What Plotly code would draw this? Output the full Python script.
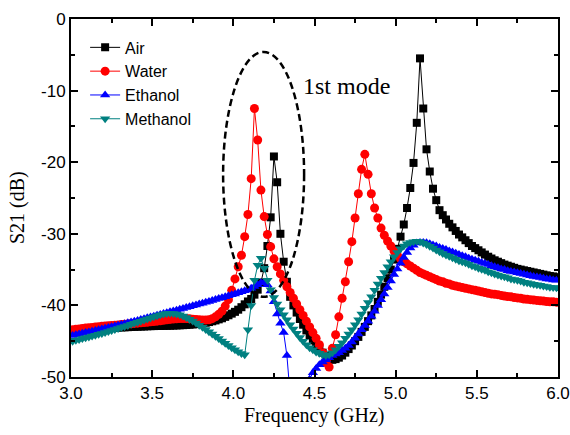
import numpy as np
import plotly.graph_objects as go

# Frequency grid (GHz) of the sampled points
freq = np.round(3.01 + 0.02 * np.arange(150), 2)

air = [
    -43.6, -43.56, -43.52, -43.48, -43.44, -43.4, -43.36, -43.32, -43.28, -43.25,
    -43.2, -43.17, -43.14, -43.12, -43.1, -43.08, -43.06, -43.04, -43.02, -43.0,
    -42.98, -42.96, -42.94, -42.92, -42.9, -42.89, -42.88, -42.87, -42.86, -42.85,
    -42.84, -42.82, -42.8, -42.78, -42.76, -42.73, -42.7, -42.66, -42.62, -42.57,
    -42.5, -42.42, -42.33, -42.22, -42.1, -41.95, -41.8, -41.6, -41.38, -41.15,
    -40.9, -40.6, -40.25, -39.85, -39.45, -39.1, -38.5, -37.8, -36.8, -34.8,
    -31.7, -27.7, -19.2, -22.8, -30.0, -33.9, -36.7, -38.8, -40.0, -41.0,
    -41.9, -42.7, -43.5, -44.2, -44.9, -45.5, -46.1, -46.6, -47.0, -47.4,
    -47.6, -47.5, -47.3, -47.0, -46.6, -46.1, -45.6, -45.0, -44.4, -43.7,
    -43.0, -42.2, -41.4, -40.5, -39.5, -38.5, -37.4, -36.2, -35.0, -33.6,
    -32.1, -30.4, -28.7, -26.4, -23.6, -20.1, -14.5, -5.5, -12.5, -18.2,
    -21.3, -23.7, -25.3, -26.7, -27.4, -28.0, -28.6, -29.1, -29.6, -30.1,
    -30.5, -30.9, -31.3, -31.7, -32.0, -32.3, -32.6, -32.9, -33.2, -33.45,
    -33.7, -33.9, -34.1, -34.3, -34.45, -34.6, -34.75, -34.9, -35.0, -35.1,
    -35.2, -35.3, -35.4, -35.5, -35.6, -35.7, -35.8, -35.9, -35.95, -36.05,
]

water = [
    -43.4, -43.34, -43.28, -43.22, -43.17, -43.12, -43.07, -43.02, -42.97, -42.92,
    -42.88, -42.84, -42.8, -42.76, -42.72, -42.68, -42.64, -42.6, -42.56, -42.52,
    -42.48, -42.44, -42.4, -42.35, -42.3, -42.25, -42.2, -42.14, -42.08, -42.02,
    -41.96, -41.9, -41.86, -41.84, -41.83, -41.84, -41.87, -41.92, -41.97, -42.02,
    -42.05, -42.05, -42.0, -41.85, -41.6, -41.25, -40.8, -40.1, -39.2, -37.9,
    -36.3, -34.6, -33.0, -30.4, -27.3, -22.3, -12.5, -16.9, -23.9, -27.6,
    -30.1, -31.8, -33.5, -34.6, -35.6, -36.5, -37.4, -38.2, -39.0, -39.8,
    -40.6, -41.4, -42.2, -43.0, -43.8, -44.6, -45.5, -46.6, -48.0, -48.6,
    -46.0, -44.1, -41.6, -39.0, -36.7, -33.9, -31.1, -27.8, -24.4, -21.0,
    -18.9, -21.7, -24.4, -26.4, -27.8, -29.2, -30.2, -31.0, -31.7, -32.4,
    -33.0, -33.5, -33.9, -34.2, -34.5, -34.8, -35.1, -35.4, -35.6, -35.8,
    -36.0, -36.2, -36.4, -36.6, -36.7, -36.9, -37.0, -37.2, -37.3, -37.4,
    -37.5, -37.6, -37.7, -37.8, -37.9, -38.0, -38.1, -38.2, -38.3, -38.4,
    -38.45, -38.5, -38.6, -38.7, -38.75, -38.8, -38.9, -38.95, -39.0, -39.1,
    -39.15, -39.2, -39.25, -39.3, -39.35, -39.4, -39.45, -39.5, -39.5, -39.55,
]

ethanol = [
    -44.2, -44.1, -44.0, -43.9, -43.8, -43.7, -43.6, -43.5, -43.4, -43.3,
    -43.2, -43.1, -42.99, -42.88, -42.77, -42.66, -42.55, -42.44, -42.33, -42.22,
    -42.1, -41.98, -41.86, -41.74, -41.62, -41.5, -41.38, -41.26, -41.14, -41.02,
    -40.9, -40.78, -40.66, -40.54, -40.42, -40.3, -40.18, -40.06, -39.94, -39.82,
    -39.7, -39.57, -39.44, -39.31, -39.18, -39.05, -38.92, -38.79, -38.66, -38.53,
    -38.4, -38.25, -38.1, -37.95, -37.8, -37.6, -37.35, -37.1, -36.85, -36.75,
    -37.1, -38.0, -39.5, -41.2, -42.5, -43.8, -47.0, -52.5, -58.0, -62.0,
    -60.0, -56.0, -52.5, -50.3, -49.4, -48.8, -48.3, -47.9, -47.6, -47.3,
    -47.0, -46.8, -46.6, -46.3, -46.0, -45.6, -45.1, -44.6, -44.0, -43.4,
    -42.8, -42.2, -41.5, -40.8, -40.0, -39.2, -38.4, -37.5, -36.6, -35.7,
    -34.9, -34.1, -33.3, -32.6, -32.0, -31.6, -31.3, -31.2, -31.2, -31.25,
    -31.4, -31.55, -31.7, -31.9, -32.05, -32.2, -32.4, -32.55, -32.7, -32.9,
    -33.05, -33.2, -33.4, -33.55, -33.7, -33.85, -34.0, -34.15, -34.3, -34.45,
    -34.6, -34.75, -34.9, -35.0, -35.15, -35.25, -35.35, -35.45, -35.55, -35.65,
    -35.75, -35.85, -35.95, -36.05, -36.1, -36.2, -36.3, -36.35, -36.45, -36.5,
]

methanol = [
    -45.0, -44.88, -44.76, -44.64, -44.52, -44.4, -44.28, -44.16, -44.04, -43.92,
    -43.8, -43.66, -43.52, -43.38, -43.24, -43.1, -42.95, -42.8, -42.65, -42.5,
    -42.35, -42.2, -42.05, -41.9, -41.75, -41.6, -41.45, -41.32, -41.2, -41.12,
    -41.1, -41.12, -41.2, -41.32, -41.48, -41.68, -41.92, -42.18, -42.46, -42.76,
    -43.06, -43.37, -43.68, -44.0, -44.32, -44.64, -44.96, -45.28, -45.6, -45.92,
    -46.2, -46.48, -46.72, -46.9, -43.4, -40.0, -36.5, -34.4, -33.4, -34.8,
    -36.5, -37.8, -38.9, -39.8, -40.6, -41.3, -42.0, -42.7, -43.3, -43.9,
    -44.5, -45.0, -45.5, -45.9, -46.2, -46.5, -46.7, -46.9, -47.0, -46.9,
    -46.6, -46.2, -45.7, -45.2, -44.6, -44.0, -43.4, -42.7, -42.0, -41.2,
    -40.4, -39.6, -38.8, -37.9, -37.0, -36.2, -35.4, -34.6, -33.9, -33.2,
    -32.6, -32.1, -31.7, -31.4, -31.2, -31.1, -31.05, -31.1, -31.3, -31.5,
    -31.75, -32.0, -32.25, -32.5, -32.75, -32.95, -33.15, -33.35, -33.55, -33.75,
    -33.9, -34.05, -34.25, -34.45, -34.6, -34.8, -34.95, -35.1, -35.3, -35.45,
    -35.6, -35.75, -35.9, -36.0, -36.15, -36.3, -36.4, -36.5, -36.6, -36.75,
    -36.85, -36.95, -37.05, -37.1, -37.2, -37.3, -37.35, -37.45, -37.5, -37.55,
]

x_tickvals = [3.0, 3.5, 4.0, 4.5, 5.0, 5.5, 6.0]
x_ticktext = ["3.0", "3.5", "4.0", "4.5", "5.0", "5.5", "6.0"]
x_minorvals = [3.25, 3.75, 4.25, 4.75, 5.25, 5.75]
y_tickvals = [0, -10, -20, -30, -40, -50]
y_ticktext = ["0", "-10", "-20", "-30", "-40", "-50"]
y_minorvals = [-5, -15, -25, -35, -45]

series = [
    ("Air", air, "#000000", "square", 8),
    ("Water", water, "#FF0000", "circle", 9),
    ("Ethanol", ethanol, "#0000FF", "triangle-up", 9),
    ("Methanol", methanol, "#008080", "triangle-down", 9),
]

fig = go.Figure()
for name, vals, color, sym, size in series:
    fig.add_trace(go.Scatter(
        x=freq, y=vals, name=name, mode="lines+markers",
        line=dict(color=color, width=1),
        marker=dict(symbol=sym, size=size, color=color, line=dict(width=0)),
    ))

# dashed ellipse around the 1st mode
fig.add_shape(type="circle", xref="x", yref="y",
              x0=3.937, x1=4.436, y0=-38.8, y1=-4.6,
              line=dict(color="black", width=2.5, dash="7px,4px"))

fig.add_annotation(x=4.70, y=-9.4, xref="x", yref="y", text="1st mode",
                   showarrow=False, font=dict(family="Liberation Serif", size=24, color="black"))

# axis titles
fig.add_annotation(x=0.5, y=0, xref="paper", yref="paper", yshift=-38,
                   text="Frequency (GHz)", showarrow=False, yanchor="middle",
                   font=dict(family="Liberation Serif", size=20, color="black"))
fig.add_annotation(x=0, y=0.5, xref="paper", yref="paper", xshift=-54, yshift=-10,
                   text="S21 (dB)", showarrow=False, textangle=-90, xanchor="center",
                   font=dict(family="Liberation Serif", size=20, color="black"))

axis_common = dict(showline=True, linecolor="black", linewidth=1.8, mirror="allticks",
                   ticks="inside", ticklen=7, tickwidth=1.5, tickcolor="black",
                   showgrid=False, zeroline=False, automargin=False,
                   tickfont=dict(family="Liberation Sans", size=17, color="black"))

fig.update_xaxes(range=[3.0, 6.0], tickmode="array", tickvals=x_tickvals, ticktext=x_ticktext,
                 minor=dict(tickmode="array", tickvals=x_minorvals, ticks="inside", ticklen=4,
                            tickwidth=1.5, tickcolor="black", showgrid=False),
                 **axis_common)
fig.update_yaxes(range=[-50, 0], tickmode="array", tickvals=y_tickvals, ticktext=y_ticktext,
                 minor=dict(tickmode="array", tickvals=y_minorvals, ticks="inside", ticklen=4,
                            tickwidth=1.5, tickcolor="black", showgrid=False),
                 **axis_common)

fig.update_layout(
    width=570, height=435,
    margin=dict(l=71, r=12, t=19, b=58, autoexpand=False),
    paper_bgcolor="white", plot_bgcolor="white",
    showlegend=True,
    legend=dict(x=0.029, y=0.968, xanchor="left", yanchor="top",
                bgcolor="rgba(0,0,0,0)", borderwidth=0,
                font=dict(family="Liberation Sans", size=16, color="black"),
                tracegroupgap=0),
)

fig.write_html("out.html")
